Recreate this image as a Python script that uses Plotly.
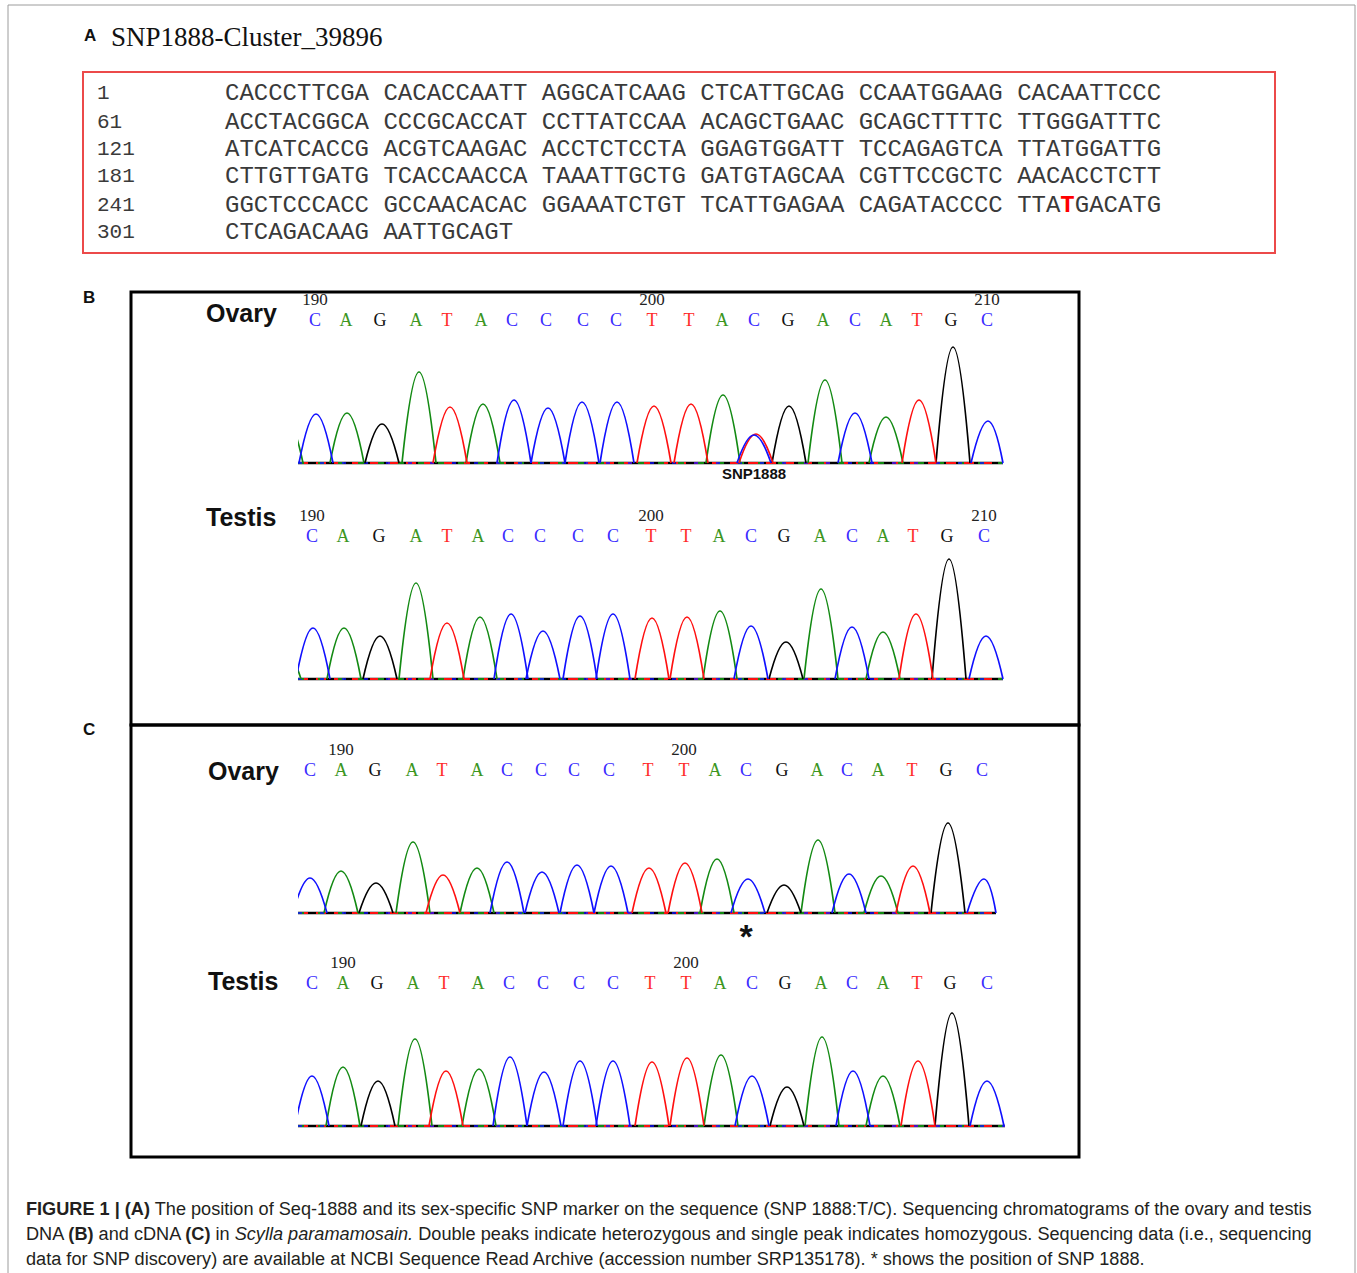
import plotly.graph_objects as go

W, H = 1357, 1273

# ---------------- Panel A data ----------------
seq_starts = ["1", "61", "121", "181", "241", "301"]
seq_rows = [
    "CACCCTTCGA CACACCAATT AGGCATCAAG CTCATTGCAG CCAATGGAAG CACAATTCCC",
    "ACCTACGGCA CCCGCACCAT CCTTATCCAA ACAGCTGAAC GCAGCTTTTC TTGGGATTTC",
    "ATCATCACCG ACGTCAAGAC ACCTCTCCTA GGAGTGGATT TCCAGAGTCA TTATGGATTG",
    "CTTGTTGATG TCACCAACCA TAAATTGCTG GATGTAGCAA CGTTCCGCTC AACACCTCTT",
    "GGCTCCCACC GCCAACACAC GGAAATCTGT TCATTGAGAA CAGATACCCC TTATGACATG",
    "CTCAGACAAG AATTGCAGT",
]
snp_row, snp_col = 4, 58

# ---------------- Chromatogram data ----------------
base_calls = "CAGATACCCCTTACGACATGC"

# B - Ovary (gDNA)
bo_peak_scan = [18, 49, 84, 121, 152, 185, 216, 250, 284, 319, 356, 393, 425, 456, 491, 527, 557, 588, 621, 655, 690]
bo_peak_h = [49, 50, 39, 91, 56, 59, 63, 55, 61, 61, 57, 59, 68, 28, 57, 83, 50, 46, 63, 116, 42]
bo_call_scan = [17, 48, 82, 118, 149, 183, 214, 248, 285, 318, 354, 391, 424, 456, 490, 525, 557, 588, 619, 653, 689]
bo_extra_base = ["T", "A"]
bo_extra_scan = [458, -12]
bo_extra_h = [29, 45]
bo_pos_text = ["190", "200", "210"]
bo_pos_idx = [0, 10, 20]
bo_end = 705

# B - Testis (gDNA)
bt_peak_scan = [15, 46, 82, 118, 149, 182, 213, 245, 282, 315, 354, 389, 422, 453, 488, 523, 554, 585, 618, 651, 688]
bt_peak_h = [51, 51, 43, 96, 56, 62, 65, 48, 63, 65, 61, 62, 68, 53, 37, 90, 52, 47, 65, 120, 43]
bt_call_scan = [14, 45, 81, 118, 149, 180, 210, 242, 280, 315, 353, 388, 421, 453, 486, 522, 554, 585, 615, 649, 686]
bt_extra_base = ["A"]
bt_extra_scan = [-14]
bt_extra_h = [30]
bt_pos_text = ["190", "200", "210"]
bt_pos_idx = [0, 10, 20]
bt_end = 705

# C - Ovary (cDNA)
co_peak_scan = [12, 43, 78, 115, 145, 179, 209, 244, 279, 313, 351, 387, 419, 450, 486, 520, 551, 583, 615, 650, 686]
co_peak_h = [35, 42, 30, 71, 38, 45, 51, 41, 48, 47, 45, 50, 54, 34, 28, 73, 39, 37, 47, 90, 34]
co_call_scan = [12, 43, 77, 114, 144, 179, 209, 243, 276, 311, 350, 386, 417, 448, 484, 519, 549, 580, 614, 648, 684]
co_extra_base = []
co_extra_scan = []
co_extra_h = []
co_pos_text = ["190", "200"]
co_pos_idx = [1, 11]
co_end = 698

# C - Testis (cDNA)
ct_peak_scan = [14, 45, 80, 117, 148, 181, 212, 246, 282, 315, 354, 389, 423, 454, 489, 524, 555, 585, 620, 654, 689]
ct_peak_h = [50, 59, 45, 87, 55, 57, 69, 54, 65, 65, 64, 68, 71, 50, 39, 89, 55, 50, 65, 113, 45]
ct_call_scan = [14, 45, 79, 115, 146, 180, 211, 245, 281, 315, 352, 388, 422, 454, 487, 523, 554, 585, 619, 652, 689]
ct_extra_base = []
ct_extra_scan = []
ct_extra_h = []
ct_pos_text = ["190", "200"]
ct_pos_idx = [1, 11]
ct_end = 707

# ---------------- styles / layout ----------------
trace_color = {"A": "#138a13", "C": "#1010ff", "G": "#000000", "T": "#ff1010"}
letter_color = {"A": "#3c961e", "C": "#3a2cff", "G": "#111111", "T": "#ff2a2a"}
HALF_W = 17
Y_LO, Y_HI = -30, 175
CALL_Y, POS_Y = 142, 162
X_PX0, X_PX1 = 298, 1010

chroms = [
    dict(scan=bo_peak_scan, h=bo_peak_h, call=bo_call_scan, exb=bo_extra_base, exs=bo_extra_scan, exh=bo_extra_h,
         pos=bo_pos_text, posi=bo_pos_idx, end=bo_end, base_px=463, name="Ovary", name_px=(204, 313)),
    dict(scan=bt_peak_scan, h=bt_peak_h, call=bt_call_scan, exb=bt_extra_base, exs=bt_extra_scan, exh=bt_extra_h,
         pos=bt_pos_text, posi=bt_pos_idx, end=bt_end, base_px=679, name="Testis", name_px=(204, 517)),
    dict(scan=co_peak_scan, h=co_peak_h, call=co_call_scan, exb=co_extra_base, exs=co_extra_scan, exh=co_extra_h,
         pos=co_pos_text, posi=co_pos_idx, end=co_end, base_px=913, name="Ovary", name_px=(206, 771)),
    dict(scan=ct_peak_scan, h=ct_peak_h, call=ct_call_scan, exb=ct_extra_base, exs=ct_extra_scan, exh=ct_extra_h,
         pos=ct_pos_text, posi=ct_pos_idx, end=ct_end, base_px=1126, name="Testis", name_px=(206, 981)),
]


def px_x(p):
    return p / W


def px_y(p):
    return 1 - p / H


fig = go.Figure()
layout_axes = {}
annotations = []

for k, c in enumerate(chroms, start=1):
    xa = "x" if k == 1 else f"x{k}"
    ya = "y" if k == 1 else f"y{k}"
    xkey = "xaxis" if k == 1 else f"xaxis{k}"
    ykey = "yaxis" if k == 1 else f"yaxis{k}"
    layout_axes[xkey] = dict(domain=[px_x(X_PX0), px_x(X_PX1)], range=[0, X_PX1 - X_PX0],
                             visible=False, anchor=ya, fixedrange=True)
    layout_axes[ykey] = dict(domain=[px_y(c["base_px"] - Y_LO), px_y(c["base_px"] - Y_HI)],
                             range=[Y_LO, Y_HI], visible=False, anchor=xa, fixedrange=True)

    # baselines (multi-coloured noise floor)
    for b, dash, wd in [("G", "solid", 2.4), ("T", "10px,8px", 2.2), ("A", "6px,14px", 2.0), ("C", "4px,18px", 1.6)]:
        fig.add_trace(go.Scatter(x=[0, c["end"]], y=[0, 0], mode="lines", xaxis=xa, yaxis=ya,
                                 line=dict(color=trace_color[b], width=wd, dash=dash),
                                 hoverinfo="skip", showlegend=False))

    # peaks per channel
    peaks = list(zip(list(base_calls), c["scan"], c["h"])) + list(zip(c["exb"], c["exs"], c["exh"]))
    for b in ["A", "G", "T", "C"]:
        xs, ys = [], []
        for bb, s, hh in peaks:
            if bb != b:
                continue
            xs += [s - HALF_W, s, min(s + HALF_W, c["end"]), None]
            ys += [0, hh, 0, None]
        if xs:
            fig.add_trace(go.Scatter(x=xs, y=ys, mode="lines", xaxis=xa, yaxis=ya,
                                     line=dict(color=trace_color[b], width=1.7, shape="spline", smoothing=1.3),
                                     connectgaps=False, hoverinfo="skip", showlegend=False))

    # base calls
    fig.add_trace(go.Scatter(x=c["call"], y=[CALL_Y] * len(c["call"]), mode="text", text=list(base_calls),
                             textfont=dict(family="Liberation Serif", size=18,
                                           color=[letter_color[b] for b in base_calls]),
                             xaxis=xa, yaxis=ya, hoverinfo="skip", showlegend=False))
    # position numbers
    fig.add_trace(go.Scatter(x=[c["call"][i] for i in c["posi"]], y=[POS_Y] * len(c["posi"]), mode="text",
                             text=c["pos"], textfont=dict(family="Liberation Serif", size=17, color="#222"),
                             xaxis=xa, yaxis=ya, hoverinfo="skip", showlegend=False))
    # sample label
    annotations.append(dict(x=px_x(c["name_px"][0]), y=px_y(c["name_px"][1]), xref="paper", yref="paper",
                            text=f"<b>{c['name']}</b>", showarrow=False, xanchor="left", yanchor="middle",
                            font=dict(family="Liberation Sans", size=25, color="#111")))

# SNP marker label (B ovary) and asterisk (C ovary)
fig.add_trace(go.Scatter(x=[bo_call_scan[13]], y=[-12], mode="text", text=["<b>SNP1888</b>"],
                         textfont=dict(family="Liberation Sans", size=15, color="#111"),
                         xaxis="x", yaxis="y", hoverinfo="skip", showlegend=False))
fig.add_trace(go.Scatter(x=[co_call_scan[13]], y=[-26], mode="text", text=["<b>*</b>"],
                         textfont=dict(family="Liberation Sans", size=34, color="#111"),
                         xaxis="x3", yaxis="y3", hoverinfo="skip", showlegend=False))

# ---------------- Panel A text ----------------
annotations.append(dict(x=px_x(82), y=px_y(35), xref="paper", yref="paper", text="<b>A</b>", showarrow=False,
                        xanchor="left", yanchor="middle", font=dict(family="Liberation Sans", size=17, color="#111")))
annotations.append(dict(x=px_x(109), y=px_y(37), xref="paper", yref="paper", text="SNP1888-Cluster_39896",
                        showarrow=False, xanchor="left", yanchor="middle",
                        font=dict(family="Liberation Serif", size=27, color="#111")))
row_y = [94, 122, 150, 177, 205, 233]
for i, (st, row) in enumerate(zip(seq_starts, seq_rows)):
    txt = row
    if i == snp_row:
        txt = row[:snp_col] + "<span style='color:#ff0000'><b>" + row[snp_col] + "</b></span>" + row[snp_col + 1:]
    annotations.append(dict(x=px_x(95), y=px_y(row_y[i]), xref="paper", yref="paper", text=st, showarrow=False,
                            xanchor="left", yanchor="middle",
                            font=dict(family="Liberation Mono", size=21, color="#3a3a3a")))
    annotations.append(dict(x=px_x(223), y=px_y(row_y[i]), xref="paper", yref="paper", text=txt, showarrow=False,
                            xanchor="left", yanchor="middle",
                            font=dict(family="Liberation Mono", size=24, color="#3a3a3a")))

annotations.append(dict(x=px_x(81), y=px_y(297), xref="paper", yref="paper", text="<b>B</b>", showarrow=False,
                        xanchor="left", yanchor="middle", font=dict(family="Liberation Sans", size=17, color="#111")))
annotations.append(dict(x=px_x(81), y=px_y(730), xref="paper", yref="paper", text="<b>C</b>", showarrow=False,
                        xanchor="left", yanchor="middle", font=dict(family="Liberation Sans", size=17, color="#111")))

# ---------------- Caption ----------------
cap_lines = [
    "<b>FIGURE 1 | (A)</b> The position of Seq-1888 and its sex-specific SNP marker on the sequence (SNP 1888:T/C). "
    "Sequencing chromatograms of the ovary and testis",
    "DNA <b>(B)</b> and cDNA <b>(C)</b> in <i>Scylla paramamosain.</i> Double peaks indicate heterozygous and single "
    "peak indicates homozygous. Sequencing data (i.e., sequencing",
    "data for SNP discovery) are available at NCBI Sequence Read Archive (accession number SRP135178). "
    "* shows the position of SNP 1888.",
]
for i, line in enumerate(cap_lines):
    annotations.append(dict(x=px_x(24), y=px_y(1209 + 25 * i), xref="paper", yref="paper", text=line,
                            showarrow=False, xanchor="left", yanchor="middle",
                            font=dict(family="Liberation Sans", size=18.15, color="#231f20")))

shapes = [
    dict(type="rect", xref="paper", yref="paper", x0=px_x(8), x1=px_x(1355), y0=px_y(1300), y1=px_y(5),
         line=dict(color="#9c9c9c", width=1)),
    dict(type="rect", xref="paper", yref="paper", x0=px_x(83), x1=px_x(1275), y0=px_y(253), y1=px_y(72),
         line=dict(color="#ec4a4a", width=2)),
    dict(type="rect", xref="paper", yref="paper", x0=px_x(131), x1=px_x(1079), y0=px_y(725), y1=px_y(292),
         line=dict(color="#000", width=3)),
    dict(type="rect", xref="paper", yref="paper", x0=px_x(131), x1=px_x(1079), y0=px_y(1157), y1=px_y(725),
         line=dict(color="#000", width=3)),
]

fig.update_layout(width=W, height=H, margin=dict(l=0, r=0, t=0, b=0), paper_bgcolor="white",
                  plot_bgcolor="rgba(0,0,0,0)", showlegend=False, annotations=annotations, shapes=shapes,
                  **layout_axes)

fig.write_html("out.html", config={"displayModeBar": False},
               post_script="document.body.style.margin='0px';document.body.style.overflow='hidden';")
